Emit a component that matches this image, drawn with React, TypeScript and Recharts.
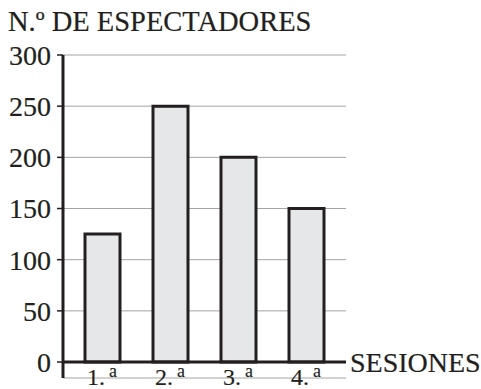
import React from 'react';
import { BarChart, Bar, XAxis, YAxis, CartesianGrid, ReferenceLine } from 'recharts';

const sessions = ['1.', '2.', '3.', '4.'];
const spectators = [125, 250, 200, 150];
const yTicks = [0, 50, 100, 150, 200, 250, 300];

const data = sessions.map((s, i) => ({ session: s, value: spectators[i] }));

const FONT = '"Liberation Serif", serif';
const INK = '#231f20';

const SessionTick = (props: any) => {
  const { x, y, payload } = props;
  return (
    <text
      x={x}
      y={y + 7}
      textAnchor="middle"
      fontFamily={FONT}
      fontSize={24}
      fill={INK}
      stroke={INK}
      strokeWidth={0.15}
    >
      {payload.value}
      <tspan fontSize={18} dx={4} dy={-8}>a</tspan>
    </text>
  );
};

export default function App() {
  return (
    <div style={{ position: 'absolute', left: 0, top: 0, width: 481, height: 389, background: '#fff' }}>
      <div
        style={{
          position: 'absolute',
          left: 8,
          top: 6,
          fontFamily: FONT,
          fontSize: 28.5,
          lineHeight: '32px',
          color: INK,
          whiteSpace: 'nowrap',
          WebkitTextStroke: '0.2px #231f20',
        }}
      >
        N.º DE ESPECTADORES
      </div>
      <BarChart
        width={481}
        height={389}
        data={data}
        margin={{ top: 55, right: 135, bottom: 1, left: 0 }}
      >
        <CartesianGrid horizontal vertical={false} stroke="#a3a3a3" strokeWidth={1} />
        <XAxis
          dataKey="session"
          axisLine={false}
          tickLine={false}
          tickSize={0}
          tickMargin={0}
          height={10}
          padding={{ left: 5, right: 6 }}
          tick={<SessionTick />}
          interval={0}
        />
        <YAxis
          type="number"
          domain={[-15.6, 300]}
          ticks={yTicks}
          allowDataOverflow
          width={63}
          axisLine={{ stroke: INK, strokeWidth: 3 }}
          tickLine={{ stroke: INK, strokeWidth: 1.5 }}
          tickSize={6}
          tickMargin={6}
          tick={{ fontFamily: FONT, fontSize: 28, fill: INK, stroke: INK, strokeWidth: 0.2 }}
        />
        <Bar
          dataKey="value"
          fill="#e6e7e9"
          stroke={INK}
          strokeWidth={3}
          barSize={35}
          isAnimationActive={false}
        />
        <ReferenceLine
          y={0}
          stroke={INK}
          strokeWidth={3}
          label={{
            value: 'SESIONES',
            position: 'right',
            offset: 4,
            fontFamily: FONT,
            fontSize: 28,
            fill: INK,
            stroke: INK,
            strokeWidth: 0.2,
          }}
        />
      </BarChart>
    </div>
  );
}
